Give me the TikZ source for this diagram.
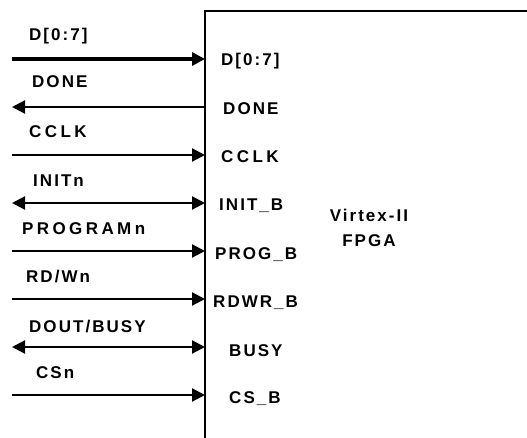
\documentclass[tikz,border=0pt]{standalone}
\usepackage{fontspec}
\setmainfont{Liberation Sans}
\newfontfamily\lblfont[LetterSpace=12]{Liberation Sans}
\newfontfamily\widefont[LetterSpace=20]{Liberation Sans}
\usetikzlibrary{arrows.meta}
\begin{document}
\begin{tikzpicture}[x=1pt,y=-1pt,
  lbl/.style={font=\lblfont\fontsize{17}{19}\selectfont\bfseries, inner sep=0pt, anchor=base west},
  wlbl/.style={font=\widefont\fontsize{17}{19}\selectfont\bfseries, inner sep=0pt, anchor=base west},
  mid/.style={font=\lblfont\fontsize{17}{19}\selectfont\bfseries, inner sep=0pt, anchor=base},
  sig/.style={line width=2.2pt},
  tipr/.style={-{Triangle[length=13pt,width=13pt]}},
  tipb/.style={{Triangle[length=13pt,width=13pt]}-{Triangle[length=13pt,width=13pt]}}]
\useasboundingbox (0,0) rectangle (527,438);
% FPGA box (clipped by the picture edge)
\draw[line width=2.2pt] (527,11) -- (205,11) -- (205,438);
% pins on box edge and free ends
\foreach \n/\y in {1/59,2/107,3/155,4/203,5/251,6/299,7/347,8/395}{
  \coordinate (p\n) at (205,\y);
  \coordinate (e\n) at (12,\y);
}
\draw[sig,line width=4pt,tipr] (e1) -- (p1);
\draw[sig,tipr] (p2) -- (e2);
\draw[sig,tipr] (e3) -- (p3);
\draw[sig,tipb] (e4) -- (p4);
\draw[sig,tipr] (e5) -- (p5);
\draw[sig,tipr] (e6) -- (p6);
\draw[sig,tipb] (e7) -- (p7);
\draw[sig,tipr] (e8) -- (p8);
% outside labels
\node[lbl] (l1) at (29,41) {D[0:7]};
\node[lbl] (l2) at (32,88) {DONE};
\node[wlbl] (l3) at (29,138) {CCLK};
\node[lbl] (l4) at (33,187) {INITn};
\node[wlbl] (l5) at (22,235) {PROGRAMn};
\node[lbl] (l6) at (26,283) {RD/Wn};
\node[lbl] (l7) at (29,332) {DOUT/BUSY};
\node[lbl] (l8) at (36,378) {CSn};
% inside labels
\node[lbl] (i1) at (221,66) {D[0:7]};
\node[lbl] (i2) at (223,115) {DONE};
\node[wlbl] (i3) at (221,163) {CCLK};
\node[lbl] (i4) at (219,211) {INIT\_B};
\node[lbl] (i5) at (215,259) {PROG\_B};
\node[lbl] (i6) at (213,307) {RDWR\_B};
\node[lbl] (i7) at (229,356) {BUSY};
\node[lbl] (i8) at (229,403) {CS\_B};
\node[mid] (t1) at (369,222) {Virtex-II};
\node[mid] (t2) at (369,247) {FPGA};
\end{tikzpicture}
\end{document}
